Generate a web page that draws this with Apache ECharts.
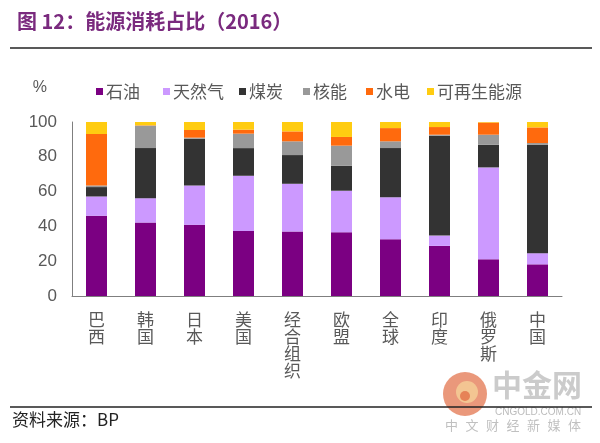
<!DOCTYPE html>
<html><head><meta charset="utf-8">
<script src="https://cdn.jsdelivr.net/npm/echarts@6/dist/echarts.min.js"></script>
<style>html,body{margin:0;padding:0;background:#fff}#c{width:600px;height:443px}</style>
</head><body><div id="c"></div>
<script>
var categories = ['巴西','韩国','日本','美国','经合组织','欧盟','全球','印度','俄罗斯','中国'];
var seriesNames = ['石油','天然气','煤炭','核能','水电','可再生能源'];
var oil       = [46.1, 42.2, 40.9, 37.4, 37.0, 36.7, 32.6, 28.8, 21.1, 18.2];
var gas       = [11.1, 14.0, 22.6, 31.7, 27.5, 23.8, 24.2, 5.9, 52.8, 6.4];
var coal      = [5.4, 28.8, 26.9, 15.9, 16.5, 14.4, 28.2, 57.4, 13.0, 62.3];
var nuclear   = [0.9, 12.9, 0.6, 8.3, 7.9, 11.5, 3.9, 0.6, 5.8, 1.0];
var hydro     = [29.6, 0.2, 4.4, 2.3, 5.7, 5.0, 7.6, 4.4, 7.0, 9.0];
var renewable = [6.9, 1.9, 4.6, 4.4, 5.4, 8.6, 3.5, 2.9, 0.3, 3.1];
var yTicks = [0, 20, 40, 60, 80, 100];
var colors = ['#7B0082', '#CC99FF', '#333333', '#999999', '#FF6A0D', '#FFCC11'];

var dataSets = [oil, gas, coal, nuclear, hydro, renewable];
var legendLefts = [91, 158, 234, 298, 361, 422];
var chart = echarts.init(document.getElementById('c'), null, {renderer: 'canvas'});
var txt = '#595959';
var cjk = 'Noto Sans CJK SC';

var legends = seriesNames.map(function (n, i) {
  return {
    left: legendLefts[i], top: 78,
    icon: 'rect', itemWidth: 7, itemHeight: 7, itemGap: 0,
    textStyle: {color: txt, fontSize: 17, fontFamily: cjk, padding: [0, 0, 0, -2]},
    selectedMode: false,
    data: [n]
  };
});

var wmChars = '中文财经新媒体'.split('');
var graphics = [
  {type: 'circle', shape: {cx: 465, cy: 394, r: 22}, style: {fill: 'rgba(226,112,72,0.72)'}, z: 0},
  {type: 'circle', shape: {cx: 467, cy: 392, r: 11}, style: {fill: 'rgba(245,205,150,0.85)'}, z: 0},
  {type: 'circle', shape: {cx: 465, cy: 396, r: 5}, style: {fill: 'rgba(226,112,72,0.8)'}, z: 0},
  {type: 'text', left: 492, top: 370, style: {text: '中金网', fill: 'rgba(160,160,160,0.55)', font: 'bold 30px "Noto Sans CJK SC"'}, z: 0},
  {type: 'text', left: 495, top: 407, style: {text: 'CNGOLD.COM.CN', fill: 'rgba(150,150,150,0.65)', font: '10px "Liberation Sans"'}, z: 0},
  {type: 'line', shape: {x1: 10, y1: 48, x2: 592, y2: 48}, style: {stroke: '#222', lineWidth: 1.5}, z: 10},
  {type: 'line', shape: {x1: 10, y1: 407, x2: 592, y2: 407}, style: {stroke: '#222', lineWidth: 1.5}, z: 10},
  {type: 'text', left: 12, top: 411, style: {text: '资料来源：BP', fill: '#222', font: '17px "Noto Sans CJK SC"'}, z: 10}
];
wmChars.forEach(function (c, i) {
  graphics.push({type: 'text', left: 445 + i * 20.5, top: 419, style: {text: c, fill: 'rgba(150,150,150,0.6)', font: '13px "Noto Sans CJK SC"'}, z: 0});
});

chart.setOption({
  backgroundColor: '#ffffff',
  animation: false,
  title: {
    text: '图 12：能源消耗占比（2016）',
    left: 12, top: 6,
    textStyle: {color: '#7A2A7E', fontSize: 20, fontWeight: 'bold', fontFamily: cjk}
  },
  legend: legends,
  grid: {left: 72, right: 38, top: 122, bottom: 147},
  xAxis: {
    type: 'category', data: categories,
    axisLine: {lineStyle: {color: '#7f7f7f'}},
    axisTick: {inside: true, length: 5, lineStyle: {color: '#7f7f7f'}},
    axisLabel: {
      color: txt, fontSize: 17, fontFamily: cjk, lineHeight: 17, margin: 15,
      formatter: function (v) { return v.split('').join('\n'); }
    }
  },
  yAxis: {
    type: 'value', min: yTicks[0], max: yTicks[yTicks.length - 1], interval: 20,
    name: '%', nameLocation: 'end', nameGap: 26,
    nameTextStyle: {color: txt, fontSize: 16, fontFamily: 'Liberation Sans', align: 'right', padding: [0, 25, 0, 0]},
    axisLine: {show: true, lineStyle: {color: '#7f7f7f'}},
    axisTick: {show: false},
    splitLine: {show: false},
    axisLabel: {color: txt, fontSize: 17, fontFamily: 'Liberation Sans', margin: 15}
  },
  series: seriesNames.map(function (n, i) {
    return {
      name: n, type: 'bar', stack: 'total', barWidth: 21,
      itemStyle: {color: colors[i]},
      data: dataSets[i]
    };
  }),
  graphic: graphics
});
</script>
</body></html>
